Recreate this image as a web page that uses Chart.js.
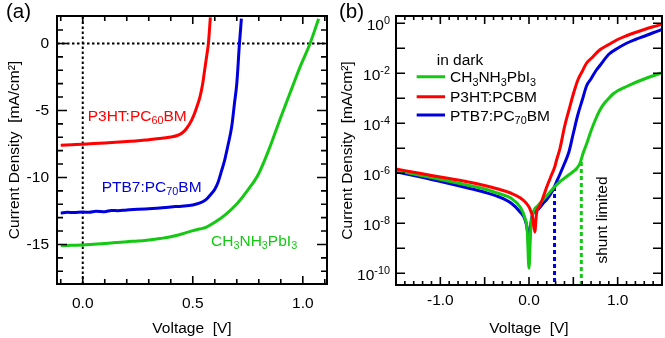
<!DOCTYPE html>
<html>
<head>
<meta charset="utf-8">
<script src="https://cdn.jsdelivr.net/npm/chart.js@4"></script>
<style>
  html, body { margin: 0; padding: 0; background: #fff; }
  #wrap { position: relative; width: 665px; height: 338px; overflow: hidden; }
  #wrap canvas { position: absolute; top: 0; }
  #jvChart { left: 0; }
  #darkChart { left: 333px; }
</style>
</head>
<body>
<div id="wrap">
  <canvas id="jvChart" width="333" height="338"></canvas>
  <canvas id="darkChart" width="332" height="338"></canvas>
</div>
<script>
// ---------- (a) J-V under light, J in mA/cm2 ----------
const p3htV = [-0.1, -0.05, 0, 0.05, 0.1, 0.15, 0.2, 0.25, 0.3, 0.35, 0.4, 0.43, 0.45, 0.47, 0.495, 0.515, 0.533, 0.545, 0.556, 0.564, 0.571, 0.58];
const p3htJ = [-7.6, -7.56, -7.52, -7.47, -7.42, -7.37, -7.32, -7.26, -7.18, -7.1, -6.98, -6.87, -6.7, -6.38, -5.72, -4.9, -3.97, -3.0, -1.75, -0.85, 0, 1.95];

const ptb7V = [-0.1, -0.07, -0.04, 0, 0.03, 0.06, 0.1, 0.13, 0.16, 0.2, 0.25, 0.3, 0.35, 0.4, 0.45, 0.5, 0.53, 0.56, 0.585, 0.6, 0.615, 0.63, 0.645, 0.66, 0.677, 0.69, 0.7, 0.712, 0.721];
const ptb7J = [-12.65, -12.6, -12.62, -12.58, -12.6, -12.52, -12.55, -12.46, -12.48, -12.42, -12.38, -12.33, -12.28, -12.2, -12.14, -12.05, -11.92, -11.65, -11.2, -10.88, -10.35, -9.55, -8.7, -7.6, -6.2, -4.4, -3.0, -0.05, 1.85];

const mapiV = [-0.1, -0.05, 0, 0.05, 0.1, 0.15, 0.2, 0.25, 0.3, 0.35, 0.4, 0.45, 0.5, 0.53, 0.56, 0.6, 0.65, 0.7, 0.75, 0.8, 0.85, 0.9, 0.95, 0.99, 1.033, 1.072];
const mapiJ = [-15.08, -15.06, -15.04, -14.98, -14.92, -14.86, -14.79, -14.74, -14.66, -14.56, -14.43, -14.22, -13.97, -13.85, -13.72, -13.35, -12.75, -11.98, -10.95, -9.7, -7.75, -5.5, -3.35, -1.65, 0, 1.85];

const jvXMin = -0.117, jvXMax = 1.11;
const jvYMin = -17.95, jvYMax = 2.05;
const jvXLabels = [0, 0.5, 1.0];
const jvXMinor = [-0.1, 0.1, 0.2, 0.3, 0.4, 0.6, 0.7, 0.8, 0.9, 1.1];
const jvYLabels = [-15, -10, -5, 0];
const jvYMinor = [-17, -16, -14, -13, -12, -11, -9, -8, -7, -6, -4, -3, -2, -1, 1];

// ---------- (b) dark J-V, log10 |J| (mA/cm2) ----------
const darkP3htV = [-1.5, -1.3, -1.1, -0.9, -0.7, -0.5, -0.35, -0.2, -0.1, -0.03, 0.01, 0.04, 0.065, 0.085, 0.12, 0.15, 0.2, 0.25, 0.29, 0.31, 0.35, 0.4, 0.45, 0.5, 0.55, 0.6, 0.65, 0.7, 0.8, 0.9, 1.0, 1.1, 1.2, 1.3, 1.4, 1.5];
const darkP3htLogJ = [-5.83, -5.96, -6.09, -6.21, -6.34, -6.49, -6.63, -6.8, -6.98, -7.2, -7.42, -7.75, -8.35, -7.6, -7.3, -7.05, -6.55, -6.1, -5.75, -5.48, -5.0, -4.15, -3.48, -2.83, -2.28, -1.93, -1.59, -1.41, -1.06, -0.85, -0.65, -0.5, -0.37, -0.25, -0.14, -0.04];

const darkPtb7V = [-1.5, -1.3, -1.1, -0.9, -0.7, -0.5, -0.35, -0.2, -0.1, -0.04, -0.015, 0.0, 0.015, 0.04, 0.08, 0.12, 0.16, 0.2, 0.27, 0.3, 0.35, 0.4, 0.45, 0.5, 0.55, 0.6, 0.65, 0.7, 0.76, 0.8, 0.9, 1.0, 1.1, 1.2, 1.3, 1.4, 1.5];
const darkPtb7LogJ = [-5.94, -6.09, -6.25, -6.41, -6.58, -6.76, -6.93, -7.2, -7.55, -7.9, -8.35, -8.95, -8.2, -7.65, -7.5, -7.38, -7.2, -7.05, -6.67, -6.43, -6.03, -5.61, -5.15, -4.4, -3.67, -3.08, -2.5, -2.22, -1.87, -1.69, -1.24, -1.0, -0.8, -0.65, -0.52, -0.38, -0.25];

const darkMapiV = [-1.5, -1.3, -1.1, -0.9, -0.7, -0.5, -0.35, -0.2, -0.1, -0.05, -0.02, 0.0, 0.02, 0.045, 0.1, 0.15, 0.2, 0.25, 0.3, 0.35, 0.4, 0.45, 0.5, 0.54, 0.575, 0.61, 0.65, 0.7, 0.75, 0.8, 0.85, 0.9, 0.95, 1.0, 1.1, 1.2, 1.3, 1.4, 1.5];
const darkMapiLogJ = [-5.88, -6.03, -6.17, -6.32, -6.47, -6.63, -6.8, -7.0, -7.35, -7.75, -8.3, -9.8, -8.2, -7.6, -7.3, -7.1, -6.9, -6.7, -6.5, -6.33, -6.2, -6.06, -5.93, -5.8, -5.6, -5.2, -4.82, -4.3, -3.85, -3.47, -3.2, -3.0, -2.82, -2.7, -2.53, -2.37, -2.23, -2.1, -1.98];

// shunt-limited markers: [voltage, log10 J where the dash ends]
const shuntPtb7 = [0.288, -6.55];
const shuntMapi = [0.59, -5.55];

const darkXMin = -1.5, darkXMax = 1.5;
const darkLogMin = -10.47, darkLogMax = 0.29;
const darkXLabels = [-1.0, 0.0, 1.0];
const darkXHalf = [-1.5, -1.0, -0.5, 0, 0.5, 1.0, 1.5];
const darkXMinor = [-1.4, -1.3, -1.2, -1.1, -0.9, -0.8, -0.7, -0.6, -0.4, -0.3, -0.2, -0.1,
                    0.1, 0.2, 0.3, 0.4, 0.6, 0.7, 0.8, 0.9, 1.1, 1.2, 1.3, 1.4];
const darkDecades = [-10, -9, -8, -7, -6, -5, -4, -3, -2, -1, 0];
const darkDecadeLabels = [-10, -8, -6, -4, -2, 0];

const RED = '#ff0000';
const BLUE = '#0000dc';
const GREEN = '#14c814';
const FONT = '"Liberation Sans", Arial, Helvetica, sans-serif';
const FS = 15.5;

Chart.defaults.font.family = FONT;
Chart.defaults.font.size = FS;
Chart.defaults.color = '#000';

// "CH_3NH_3PbI_3" -> normal / sub pieces, "10^-2" -> sup piece
const richParts = (str) => str.split(/(_\d+|\^-?\d+)/).filter(s => s).map(s => {
    if (s[0] === '_') return { t: s.slice(1), k: -1 };
    if (s[0] === '^') return { t: s.slice(1), k: 1 };
    return { t: s, k: 0 };
});

const richWidth = (ctx, parts, size) => parts.reduce((w, p) => {
    ctx.font = `${p.k ? size * 0.7 : size}px ${FONT}`;
    return w + ctx.measureText(p.t).width;
}, 0);

const drawRich = (ctx, str, x, y, size, align) => {
    const parts = richParts(str);
    const w = richWidth(ctx, parts, size);
    let cx = align === 'right' ? x - w : align === 'center' ? x - w / 2 : x;
    ctx.textAlign = 'left';
    ctx.textBaseline = 'alphabetic';
    parts.forEach(p => {
        ctx.font = `${p.k ? size * 0.7 : size}px ${FONT}`;
        const dy = p.k < 0 ? size * 0.22 : p.k > 0 ? -size * 0.43 : 0;
        ctx.fillText(p.t, cx, y + dy);
        cx += ctx.measureText(p.t).width;
    });
};

// frame plus inward ticks on all four sides
const frameTicks = {
    id: 'frameTicks',
    afterDatasetsDraw(chart, args, opts) {
        const { ctx, chartArea: a, scales: { x, y } } = chart;
        ctx.save();
        ctx.strokeStyle = '#000';
        ctx.lineWidth = 1.6;
        ctx.beginPath();
        opts.xTicks.forEach(([v, len]) => {
            const px = x.getPixelForValue(v);
            ctx.moveTo(px, a.bottom); ctx.lineTo(px, a.bottom - len);
            ctx.moveTo(px, a.top); ctx.lineTo(px, a.top + len);
        });
        opts.yTicks.forEach(([v, len]) => {
            const py = y.getPixelForValue(v);
            ctx.moveTo(a.left, py); ctx.lineTo(a.left + len, py);
            ctx.moveTo(a.right, py); ctx.lineTo(a.right - len, py);
        });
        ctx.stroke();
        ctx.lineWidth = 2;
        ctx.strokeRect(a.left, a.top, a.right - a.left, a.bottom - a.top);

        // log axis labels 10^n
        ctx.fillStyle = '#000';
        (opts.logLabels || []).forEach(e => {
            const py = y.getPixelForValue(Math.pow(10, e));
            drawRich(ctx, '10^' + e, a.left - 6, py + 7, FS, 'right');
        });
        ctx.restore();
    }
};

// in-plot text, legend and panel letter
const textMarks = {
    id: 'textMarks',
    afterDraw(chart, args, opts) {
        const { ctx, scales: { x, y } } = chart;
        const yv = v => opts.log ? Math.pow(10, v) : v;
        ctx.save();
        (opts.items || []).forEach(it => {
            const px = x.getPixelForValue(it.x);
            const py = y.getPixelForValue(yv(it.y));
            ctx.save();
            ctx.fillStyle = it.color || '#000';
            if (it.rotate) {
                ctx.translate(px, py);
                ctx.rotate(-Math.PI / 2);
                drawRich(ctx, it.text, 0, 0, FS, 'center');
            } else {
                drawRich(ctx, it.text, px, py, FS, it.align);
            }
            ctx.restore();
        });
        (opts.keys || []).forEach(k => {
            const py = y.getPixelForValue(yv(k.y));
            ctx.strokeStyle = k.color;
            ctx.lineWidth = 3;
            ctx.beginPath();
            ctx.moveTo(x.getPixelForValue(k.x0), py);
            ctx.lineTo(x.getPixelForValue(k.x1), py);
            ctx.stroke();
            ctx.fillStyle = '#000';
            drawRich(ctx, k.text, x.getPixelForValue(k.tx), py + 5.5, FS);
        });
        ctx.fillStyle = '#000';
        ctx.font = `20.5px ${FONT}`;
        ctx.textAlign = 'left';
        ctx.textBaseline = 'alphabetic';
        ctx.fillText(opts.panel, 6, 18);
        ctx.restore();
    }
};

const tickList = (minor, major, lenMinor, lenMajor) =>
    minor.map(v => [v, lenMinor]).concat(major.map(v => [v, lenMajor]));

const curve = (xs, ys, color) => ({
    data: xs.map((v, i) => ({ x: v, y: ys[i] })),
    borderColor: color,
    borderWidth: 3,
    pointRadius: 0,
    cubicInterpolationMode: 'monotone'
});

const logCurve = (xs, logs, color) => curve(xs, logs.map(l => Math.pow(10, l)), color);

const guide = (pts, color, dash, width) => ({
    data: pts,
    borderColor: color,
    borderWidth: width,
    borderDash: dash,
    pointRadius: 0,
    tension: 0
});

// labelled ticks only, set straight from the label arrays
const fixTicks = (values) => (s) => { s.ticks = values.map(v => ({ value: v })); };

// ---------- chart (a) ----------
new Chart(document.getElementById('jvChart'), {
    type: 'line',
    data: {
        datasets: [
            curve(p3htV, p3htJ, RED),
            curve(ptb7V, ptb7J, BLUE),
            curve(mapiV, mapiJ, GREEN),
            guide([{ x: jvXMin, y: 0 }, { x: jvXMax, y: 0 }], '#000', [2.5, 2.5], 2),
            guide([{ x: 0, y: jvYMin }, { x: 0, y: jvYMax }], '#000', [2.5, 2.5], 2)
        ]
    },
    options: {
        responsive: false,
        animation: false,
        events: [],
        layout: { padding: { top: 16, right: 6, left: 0, bottom: 0 } },
        plugins: {
            legend: { display: false },
            tooltip: { enabled: false },
            frameTicks: {
                xTicks: tickList(jvXMinor, jvXLabels, 5, 8),
                yTicks: tickList(jvYMinor, jvYLabels, 6, 10)
            },
            textMarks: {
                panel: '(a)',
                items: [
                    { text: 'P3HT:PC_60BM', x: 0.0225, y: -5.76, color: RED },
                    { text: 'PTB7:PC_70BM', x: 0.086, y: -11.06, color: BLUE },
                    { text: 'CH_3NH_3PbI_3', x: 0.583, y: -15.09, color: GREEN }
                ]
            }
        },
        scales: {
            x: {
                type: 'linear', min: jvXMin, max: jvXMax,
                grid: { display: false, drawTicks: false },
                border: { display: false },
                afterBuildTicks: fixTicks(jvXLabels),
                ticks: { autoSkip: false, maxRotation: 0, padding: 10, callback: v => v.toFixed(1) },
                title: { display: true, text: 'Voltage  [V]', padding: { top: 0, bottom: 0 } },
                afterFit: s => { s.height = 54; s.paddingLeft = 0; s.paddingRight = 0; }
            },
            y: {
                type: 'linear', min: jvYMin, max: jvYMax,
                grid: { display: false, drawTicks: false },
                border: { display: false },
                afterBuildTicks: fixTicks(jvYLabels),
                ticks: { autoSkip: false, padding: 8, callback: v => String(v) },
                title: { display: true, text: 'Current Density  [mA/cm²]', padding: { top: 5, bottom: 0 } },
                afterFit: s => { s.width = 57; s.paddingTop = 0; s.paddingBottom = 0; }
            }
        }
    },
    plugins: [frameTicks, textMarks]
});

// ---------- chart (b) ----------
const logMin = Math.pow(10, darkLogMin);
new Chart(document.getElementById('darkChart'), {
    type: 'line',
    data: {
        datasets: [
            logCurve(darkP3htV, darkP3htLogJ, RED),
            logCurve(darkMapiV, darkMapiLogJ, GREEN),
            logCurve(darkPtb7V, darkPtb7LogJ, BLUE),
            guide([{ x: shuntPtb7[0], y: Math.pow(10, shuntPtb7[1]) }, { x: shuntPtb7[0], y: logMin }], BLUE, [4, 3], 3),
            guide([{ x: shuntMapi[0], y: Math.pow(10, shuntMapi[1]) }, { x: shuntMapi[0], y: logMin }], GREEN, [4, 3], 3)
        ]
    },
    options: {
        responsive: false,
        animation: false,
        events: [],
        layout: { padding: { top: 16, right: 3, left: 0, bottom: 0 } },
        plugins: {
            legend: { display: false },
            tooltip: { enabled: false },
            frameTicks: {
                xTicks: tickList(darkXMinor, darkXHalf, 4, 8),
                yTicks: tickList([], darkDecades.map(e => Math.pow(10, e)), 0, 9),
                logLabels: darkDecadeLabels
            },
            textMarks: {
                panel: '(b)',
                log: true,
                items: [
                    { text: 'in dark', x: -1.041, y: -1.67 },
                    { text: 'shunt limited', x: 0.876, y: -7.87, rotate: true }
                ],
                keys: [
                    { text: 'CH_3NH_3PbI_3', color: GREEN, x0: -1.267, x1: -0.947, tx: -0.891, y: -2.14 },
                    { text: 'P3HT:PCBM', color: RED, x0: -1.267, x1: -0.947, tx: -0.891, y: -2.94 },
                    { text: 'PTB7:PC_70BM', color: BLUE, x0: -1.267, x1: -0.947, tx: -0.891, y: -3.67 }
                ]
            }
        },
        scales: {
            x: {
                type: 'linear', min: darkXMin, max: darkXMax,
                grid: { display: false, drawTicks: false },
                border: { display: false },
                afterBuildTicks: fixTicks(darkXLabels),
                ticks: { autoSkip: false, maxRotation: 0, padding: 6, callback: v => v.toFixed(1) },
                title: { display: true, text: 'Voltage  [V]', padding: { top: 0, bottom: 0 } },
                afterFit: s => { s.height = 53; s.paddingLeft = 0; s.paddingRight = 0; }
            },
            y: {
                type: 'logarithmic', min: logMin, max: Math.pow(10, darkLogMax),
                grid: { display: false, drawTicks: false },
                border: { display: false },
                ticks: { display: false },
                title: { display: true, text: 'Current Density  [mA/cm²]', padding: { top: 5, bottom: 0 } },
                afterFit: s => { s.width = 63; s.paddingTop = 0; s.paddingBottom = 0; }
            }
        }
    },
    plugins: [frameTicks, textMarks]
});
</script>
</body>
</html>
